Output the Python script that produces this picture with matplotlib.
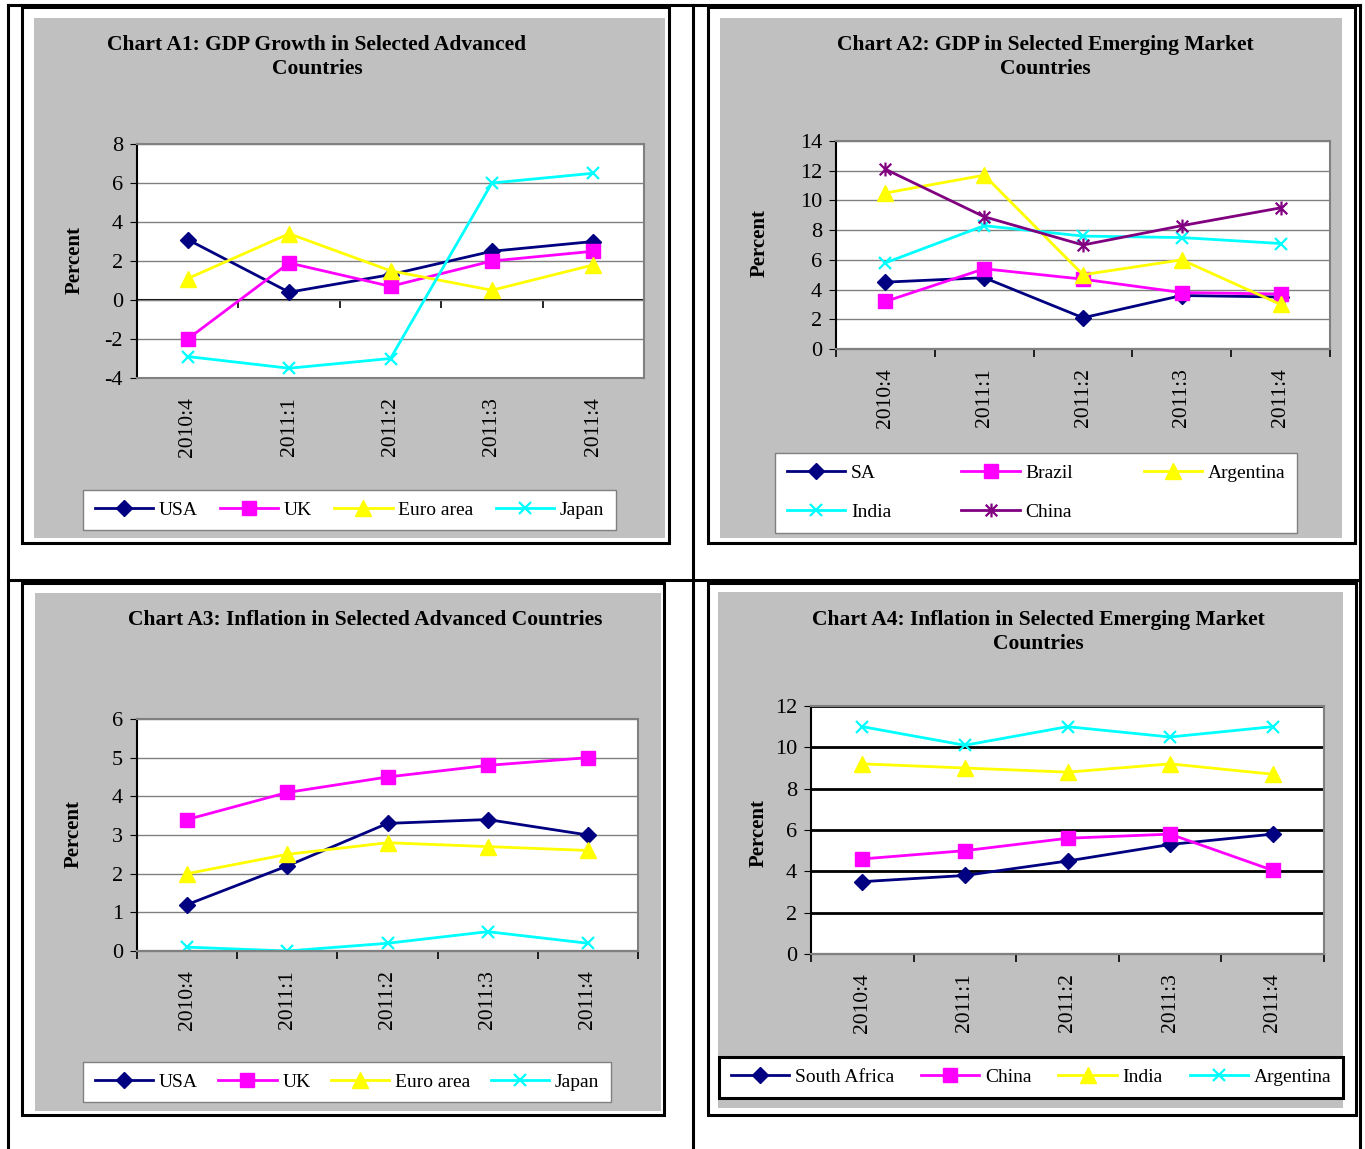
import numpy as np
import matplotlib.pyplot as plt
from matplotlib.patches import Rectangle
from matplotlib.lines import Line2D
from matplotlib.path import Path

plt.rcParams["font.family"] = ["Liberation Serif", "DejaVu Serif"]
plt.rcParams["axes.unicode_minus"] = False

W, H = 1365, 1149

quarters = ["2010:4", "2011:1", "2011:2", "2011:3", "2011:4"]

# Chart A1: GDP growth, advanced
a1_usa = [3.1, 0.4, 1.3, 2.5, 3.0]
a1_uk = [-2.0, 1.9, 0.7, 2.0, 2.5]
a1_euro = [1.1, 3.4, 1.5, 0.5, 1.8]
a1_japan = [-2.9, -3.5, -3.0, 6.0, 6.5]

# Chart A2: GDP, emerging
a2_sa = [4.5, 4.8, 2.1, 3.6, 3.5]
a2_brazil = [3.2, 5.4, 4.7, 3.8, 3.7]
a2_argentina = [10.5, 11.7, 5.0, 6.0, 3.0]
a2_india = [5.8, 8.3, 7.6, 7.5, 7.1]
a2_china = [12.1, 8.9, 7.0, 8.3, 9.5]

# Chart A3: inflation, advanced
a3_usa = [1.2, 2.2, 3.3, 3.4, 3.0]
a3_uk = [3.4, 4.1, 4.5, 4.8, 5.0]
a3_euro = [2.0, 2.5, 2.8, 2.7, 2.6]
a3_japan = [0.1, 0.0, 0.2, 0.5, 0.2]

# Chart A4: inflation, emerging
a4_sa = [3.5, 3.8, 4.5, 5.3, 5.8]
a4_china = [4.6, 5.0, 5.6, 5.8, 4.05]
a4_india = [9.2, 9.0, 8.8, 9.2, 8.7]
a4_argentina = [11.0, 10.1, 11.0, 10.5, 11.0]

NAVY = "#000080"
MAGENTA = "#FF00FF"
YELLOW = "#FFFF00"
CYAN = "#00FFFF"
PURPLE = "#800080"
GRAY = "#C0C0C0"
DGRAY = "#808080"

# excel-style asterisk marker (x with a vertical bar)
star = Path([(-1, -1), (1, 1), (-1, 1), (1, -1), (0, -1.2), (0, 1.2)],
            [Path.MOVETO, Path.LINETO, Path.MOVETO, Path.LINETO, Path.MOVETO, Path.LINETO])

STYLE = {
    "D": dict(marker="D", ms=8),
    "s": dict(marker="s", ms=10),
    "^": dict(marker="^", ms=11),
    "x": dict(marker="x", ms=9, mew=1.6),
    "*": dict(marker=star, ms=10, mew=1.6),
}

fig = plt.figure(figsize=(W / 100, H / 100), dpi=100)


def fbox(x0, y0, x1, y1):
    return [x0 / W, 1 - y1 / H, (x1 - x0) / W, (y1 - y0) / H]


def fline(x0, y0, x1, y1, lw=2.2):
    fig.add_artist(Line2D([x0 / W, x1 / W], [1 - y0 / H, 1 - y1 / H],
                          color="black", lw=lw, transform=fig.transFigure, zorder=-5))


# table lines
fline(8, 5, 1360, 5)
fline(8, 580, 1360, 580)
for xv in (8, 693, 1360):
    fline(xv, 5, xv, 1149)


def chart(frame, gray, plot, leg, title, title_xy, ylab_xy, series, ylim, step,
          ncol, grid_color=DGRAY, grid_lw=1.0, leg_edge=DGRAY, leg_lw=1.0, order=None,
          labelspacing=0.6):
    fig.add_artist(Rectangle(fbox(*frame)[:2], *fbox(*frame)[2:], transform=fig.transFigure,
                             facecolor="white", edgecolor="black", lw=2.2, zorder=-4))
    fig.add_artist(Rectangle(fbox(*gray)[:2], *fbox(*gray)[2:], transform=fig.transFigure,
                             facecolor=GRAY, edgecolor="none", zorder=-3))
    fig.text(title_xy[0] / W, 1 - title_xy[1] / H, title, ha="center", va="center",
             fontsize=15.5, fontweight="bold", linespacing=1.3)
    fig.text(ylab_xy[0] / W, 1 - ylab_xy[1] / H, "Percent", rotation=90, ha="center",
             va="center", fontsize=15, fontweight="bold")

    ax = fig.add_axes(fbox(*plot))
    x = np.arange(len(quarters))
    handles = []
    for name, vals, color, mk in series:
        h, = ax.plot(x, vals, color=color, lw=2, label=name, **STYLE[mk])
        handles.append(h)

    ax.set_xlim(-0.5, len(quarters) - 0.5)
    ax.set_ylim(*ylim)
    ax.set_yticks(np.arange(ylim[0], ylim[1] + step / 2, step))
    ax.yaxis.grid(True, color=grid_color, lw=grid_lw)
    ax.set_axisbelow(True)
    ax.tick_params(axis="y", direction="out", length=5, labelsize=16, pad=5)
    ax.set_xticks(x, quarters, rotation=90)
    ax.tick_params(axis="x", length=0, labelsize=15.5, pad=14)
    for s in ("top", "right", "bottom"):
        ax.spines[s].set_color(DGRAY)
        ax.spines[s].set_linewidth(1.5)
    ax.spines["left"].set_linewidth(1.5)

    # category axis crossing at zero, ticks between categories
    loc = (0 - ylim[0]) / (ylim[1] - ylim[0])
    sec = ax.secondary_xaxis(loc)
    sec.set_xticks(np.arange(-0.5, len(quarters), 1))
    sec.tick_params(direction="out", length=6, width=1.2, labelbottom=False)
    sec.spines["bottom"].set_linewidth(1.5)

    if order is not None:
        handles = [handles[i] for i in order]
    lg = ax.legend(handles=handles, loc="center", bbox_to_anchor=fbox(*leg),
                   bbox_transform=fig.transFigure, mode="expand", ncol=ncol, fontsize=14,
                   frameon=True, fancybox=False, framealpha=1, edgecolor=leg_edge,
                   borderaxespad=0, handlelength=3, handletextpad=0.3, borderpad=0.6,
                   labelspacing=labelspacing)
    lg.get_frame().set_linewidth(leg_lw)
    return ax


chart((22, 7, 669, 543), (34, 18, 665, 538), (137, 144, 644, 378), (83, 488, 616, 532),
      "Chart A1: GDP Growth in Selected Advanced\nCountries", (317, 57), (75, 260),
      [("USA", a1_usa, NAVY, "D"), ("UK", a1_uk, MAGENTA, "s"),
       ("Euro area", a1_euro, YELLOW, "^"), ("Japan", a1_japan, CYAN, "x")],
      (-4, 8), 2, 4)

chart((708, 7, 1355, 543), (720, 18, 1342, 538), (836, 141, 1330, 349), (775, 454, 1297, 532),
      "Chart A2: GDP in Selected Emerging Market\nCountries", (1045, 57), (760, 243),
      [("SA", a2_sa, NAVY, "D"), ("Brazil", a2_brazil, MAGENTA, "s"),
       ("Argentina", a2_argentina, YELLOW, "^"), ("India", a2_india, CYAN, "x"),
       ("China", a2_china, PURPLE, "*")],
      (0, 14), 2, 3, order=[0, 3, 1, 4, 2], labelspacing=1.1)

chart((22, 583, 664, 1115), (35, 593, 661, 1111), (137, 719, 638, 951), (83, 1060, 611, 1104),
      "Chart A3: Inflation in Selected Advanced Countries", (365, 620), (74, 834),
      [("USA", a3_usa, NAVY, "D"), ("UK", a3_uk, MAGENTA, "s"),
       ("Euro area", a3_euro, YELLOW, "^"), ("Japan", a3_japan, CYAN, "x")],
      (0, 6), 1, 4)

chart((708, 583, 1356, 1115), (718, 592, 1343, 1108), (811, 706, 1324, 954), (719, 1056, 1343, 1099),
      "Chart A4: Inflation in Selected Emerging Market\nCountries", (1038, 632), (759, 833),
      [("South Africa", a4_sa, NAVY, "D"), ("China", a4_china, MAGENTA, "s"),
       ("India", a4_india, YELLOW, "^"), ("Argentina", a4_argentina, CYAN, "x")],
      (0, 12), 2, 4, grid_color="black", grid_lw=2.0, leg_edge="black", leg_lw=2.2)

fig.savefig("out.png", dpi=100)
